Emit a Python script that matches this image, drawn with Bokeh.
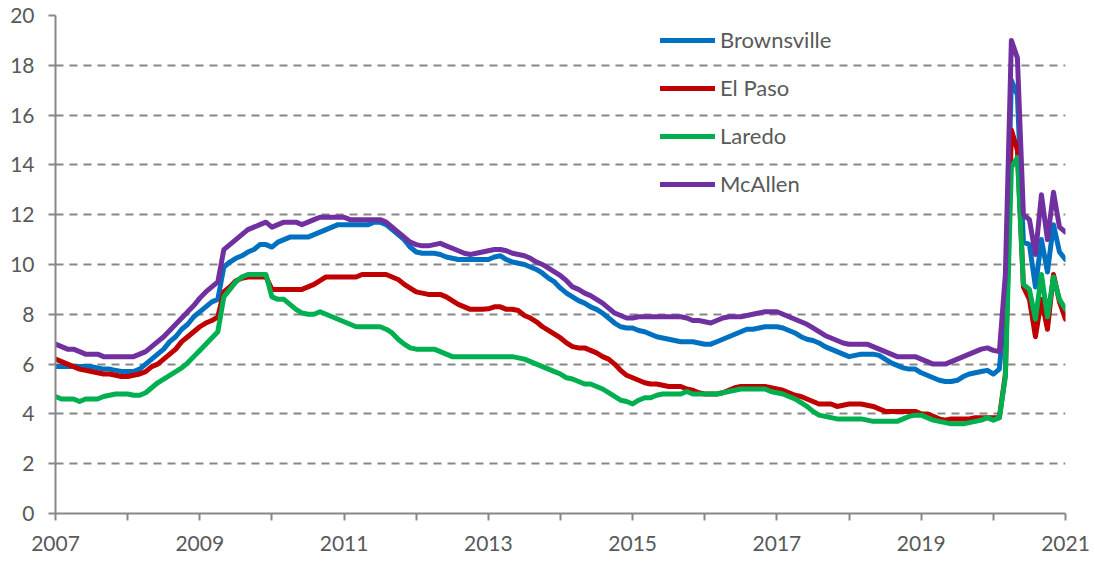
from bokeh.plotting import figure
from bokeh.models import Range1d, FixedTicker, Legend, LegendItem, ColumnDataSource
from bokeh.embed import file_html
from bokeh.resources import INLINE

# ---- data (monthly, Jan 2007 .. Jan 2021) ----
start_year = 2007
end_year = 2021
tick_years = list(range(2007, 2022))
label_years = [2007, 2009, 2011, 2013, 2015, 2017, 2019, 2021]
y_ticks = [0, 2, 4, 6, 8, 10, 12, 14, 16, 18, 20]

brownsville = [
    5.9, 5.9, 5.9, 5.9, 5.9, 5.9, 5.9, 5.85, 5.8, 5.8, 5.75, 5.7,
    5.7, 5.7, 5.8, 6.0, 6.2, 6.4, 6.6, 6.9, 7.1, 7.4, 7.6, 7.9,
    8.1, 8.3, 8.5, 8.6, 9.9, 10.1, 10.25, 10.35, 10.5, 10.6, 10.8, 10.8,
    10.7, 10.9, 11.0, 11.1, 11.1, 11.1, 11.1, 11.2, 11.3, 11.4, 11.5, 11.6,
    11.6, 11.6, 11.6, 11.6, 11.6, 11.7, 11.7, 11.6, 11.4, 11.2, 11.0, 10.7,
    10.5, 10.45, 10.45, 10.45, 10.4, 10.3, 10.25, 10.2, 10.2, 10.2, 10.2, 10.2,
    10.2, 10.3, 10.35, 10.2, 10.1, 10.05, 10.0, 9.9, 9.8, 9.65, 9.45, 9.3,
    9.05, 8.85, 8.7, 8.55, 8.45, 8.3, 8.2, 8.05, 7.85, 7.65, 7.5, 7.45,
    7.45, 7.35, 7.3, 7.2, 7.1, 7.05, 7.0, 6.95, 6.9, 6.9, 6.9, 6.85,
    6.8, 6.8, 6.9, 7.0, 7.1, 7.2, 7.3, 7.4, 7.4, 7.45, 7.5, 7.5,
    7.5, 7.45, 7.35, 7.25, 7.1, 7.0, 6.95, 6.85, 6.7, 6.6, 6.5, 6.4,
    6.3, 6.35, 6.4, 6.4, 6.4, 6.35, 6.2, 6.05, 5.95, 5.85, 5.8, 5.8,
    5.65, 5.55, 5.45, 5.35, 5.3, 5.3, 5.35, 5.5, 5.6, 5.65, 5.7, 5.75,
    5.6, 5.8, 8.5, 17.4, 16.8, 10.9, 10.8, 9.1, 11.0, 9.7, 11.6, 10.5,
    10.2,
]

el_paso = [
    6.2, 6.1, 6.0, 5.9, 5.8, 5.75, 5.7, 5.65, 5.6, 5.6, 5.55, 5.5,
    5.5, 5.55, 5.6, 5.7, 5.9, 6.0, 6.2, 6.4, 6.6, 6.9, 7.1, 7.3,
    7.5, 7.65, 7.75, 7.9, 8.9, 9.1, 9.35, 9.45, 9.5, 9.5, 9.5, 9.5,
    9.0, 9.0, 9.0, 9.0, 9.0, 9.0, 9.1, 9.2, 9.35, 9.5, 9.5, 9.5,
    9.5, 9.5, 9.5, 9.6, 9.6, 9.6, 9.6, 9.6, 9.5, 9.4, 9.2, 9.05,
    8.9, 8.85, 8.8, 8.8, 8.8, 8.7, 8.55, 8.4, 8.3, 8.2, 8.2, 8.2,
    8.22, 8.3, 8.3, 8.2, 8.2, 8.15, 7.95, 7.85, 7.7, 7.5, 7.35, 7.2,
    7.05, 6.85, 6.7, 6.65, 6.65, 6.55, 6.45, 6.3, 6.2, 6.0, 5.75, 5.55,
    5.45, 5.35, 5.25, 5.2, 5.2, 5.15, 5.1, 5.1, 5.1, 5.0, 4.95, 4.85,
    4.8, 4.8, 4.8, 4.85, 4.95, 5.05, 5.1, 5.1, 5.1, 5.1, 5.1, 5.05,
    5.0, 4.95, 4.85, 4.75, 4.7, 4.6, 4.5, 4.4, 4.4, 4.4, 4.3, 4.35,
    4.4, 4.4, 4.4, 4.35, 4.3, 4.2, 4.1, 4.1, 4.1, 4.1, 4.1, 4.1,
    4.0, 4.0, 3.9, 3.8, 3.75, 3.8, 3.8, 3.8, 3.8, 3.85, 3.85, 3.85,
    3.85, 3.85, 5.6, 15.4, 14.6, 9.1, 8.6, 7.1, 8.6, 7.4, 9.6, 8.5,
    7.8,
]

laredo = [
    4.7, 4.6, 4.6, 4.6, 4.5, 4.6, 4.6, 4.6, 4.7, 4.75, 4.8, 4.8,
    4.8, 4.75, 4.75, 4.85, 5.05, 5.25, 5.4, 5.55, 5.7, 5.85, 6.05, 6.3,
    6.55, 6.8, 7.05, 7.3, 8.7, 9.0, 9.3, 9.5, 9.6, 9.6, 9.6, 9.6,
    8.7, 8.6, 8.6, 8.4, 8.2, 8.05, 8.0, 8.0, 8.1, 8.0, 7.9, 7.8,
    7.7, 7.6, 7.5, 7.5, 7.5, 7.5, 7.5, 7.4, 7.25, 7.0, 6.8, 6.65,
    6.6, 6.6, 6.6, 6.6, 6.5, 6.4, 6.3, 6.3, 6.3, 6.3, 6.3, 6.3,
    6.3, 6.3, 6.3, 6.3, 6.3, 6.25, 6.2, 6.1, 6.0, 5.9, 5.8, 5.7,
    5.6, 5.45, 5.4, 5.3, 5.2, 5.2, 5.1, 5.0, 4.85, 4.7, 4.55, 4.5,
    4.4, 4.55, 4.65, 4.65, 4.75, 4.8, 4.8, 4.8, 4.8, 4.9, 4.8, 4.8,
    4.8, 4.8, 4.8, 4.85, 4.9, 4.95, 5.0, 5.0, 5.0, 5.0, 5.0, 4.9,
    4.85, 4.8, 4.7, 4.6, 4.45, 4.3, 4.1, 3.95, 3.9, 3.85, 3.8, 3.8,
    3.8, 3.8, 3.8, 3.75, 3.7, 3.7, 3.7, 3.7, 3.7, 3.8, 3.9, 3.95,
    3.95, 3.85, 3.75, 3.7, 3.65, 3.6, 3.6, 3.6, 3.65, 3.7, 3.75, 3.85,
    3.75, 3.85, 5.5, 13.9, 14.3, 9.2, 9.0, 7.8, 9.6, 7.9, 9.5, 8.6,
    8.2,
]

mcallen = [
    6.8, 6.7, 6.6, 6.6, 6.5, 6.4, 6.4, 6.4, 6.3, 6.3, 6.3, 6.3,
    6.3, 6.3, 6.4, 6.5, 6.7, 6.9, 7.1, 7.35, 7.6, 7.85, 8.1, 8.35,
    8.65, 8.9, 9.1, 9.3, 10.6, 10.8, 11.0, 11.2, 11.4, 11.5, 11.6, 11.7,
    11.5, 11.6, 11.7, 11.7, 11.7, 11.6, 11.7, 11.8, 11.9, 11.9, 11.9, 11.9,
    11.9, 11.8, 11.8, 11.8, 11.8, 11.8, 11.8, 11.7, 11.5, 11.3, 11.1, 10.9,
    10.8, 10.75, 10.75, 10.8, 10.85, 10.75, 10.65, 10.55, 10.45, 10.4, 10.45, 10.5,
    10.55, 10.6, 10.6, 10.55, 10.45, 10.4, 10.35, 10.25, 10.1, 10.0, 9.85, 9.7,
    9.55, 9.35, 9.1, 9.0, 8.85, 8.75, 8.6, 8.45, 8.25, 8.05, 7.95, 7.85,
    7.85, 7.9, 7.9, 7.9, 7.9, 7.9, 7.9, 7.9, 7.9, 7.85, 7.75, 7.75,
    7.7, 7.65, 7.75, 7.85, 7.9, 7.9, 7.9, 7.95, 8.0, 8.05, 8.1, 8.1,
    8.1, 8.0, 7.9, 7.8, 7.7, 7.6, 7.45, 7.3, 7.15, 7.05, 6.95, 6.85,
    6.8, 6.8, 6.8, 6.8, 6.7, 6.6, 6.5, 6.4, 6.3, 6.3, 6.3, 6.3,
    6.2, 6.1, 6.0, 6.0, 6.0, 6.1, 6.2, 6.3, 6.4, 6.5, 6.6, 6.65,
    6.55, 6.5, 9.6, 19.0, 18.3, 12.0, 11.8, 10.4, 12.8, 11.0, 12.9, 11.5,
    11.3,
]

series_names = ["Brownsville", "El Paso", "Laredo", "McAllen"]
series_values = [brownsville, el_paso, laredo, mcallen]
series_colors = ["#0070C0", "#C00000", "#00B050", "#7030A0"]

# month positions on a continuous year axis
x = [start_year + i / 12 for i in range(len(brownsville))]

FONT = "Lato"
TEXT_COLOR = "#595959"
AXIS_COLOR = "#878787"

p = figure(
    width=1090, height=556,
    x_range=Range1d(start_year, end_year), y_range=Range1d(0, 20),
    output_backend="svg", toolbar_location=None,
    min_border_left=55, min_border_right=25, min_border_top=15, min_border_bottom=43,
)
p.outline_line_color = None
p.background_fill_color = "white"
p.border_fill_color = "white"

renderers = []
for name, vals, col in zip(series_names, series_values, series_colors):
    src = ColumnDataSource(dict(x=x, y=vals))
    r = p.line("x", "y", source=src, line_color=col, line_width=5,
               line_join="round", line_cap="round")
    renderers.append(r)

# axes
p.xaxis.ticker = FixedTicker(ticks=tick_years)
p.xaxis.major_label_overrides = {yr: (str(yr) if yr in label_years else "") for yr in tick_years}
p.yaxis.ticker = FixedTicker(ticks=y_ticks)
for ax in (p.xaxis, p.yaxis):
    ax.axis_line_color = AXIS_COLOR
    ax.axis_line_width = 2
    ax.major_tick_line_color = AXIS_COLOR
    ax.major_tick_line_width = 2
    ax.major_tick_in = 0
    ax.major_tick_out = 7
    ax.minor_tick_line_color = None
    ax.major_label_text_font = FONT
    ax.major_label_text_font_size = "21px"
    ax.major_label_text_color = TEXT_COLOR
p.xaxis.major_label_standoff = 15
p.yaxis.major_label_standoff = 14

p.xgrid.visible = False
p.ygrid.grid_line_color = AXIS_COLOR
p.ygrid.grid_line_width = 2
p.ygrid.grid_line_dash = "8 6"

legend = Legend(
    items=[LegendItem(label=n, renderers=[r]) for n, r in zip(series_names, renderers)],
    location=(605, 316),
    glyph_width=55, glyph_height=20, label_height=20, spacing=21,
    padding=0, margin=0, label_standoff=5,
    border_line_color=None, background_fill_alpha=0,
    label_text_font=FONT, label_text_font_size="22px", label_text_color=TEXT_COLOR,
)
p.add_layout(legend)

open("out.html", "w").write(file_html(p, INLINE))
